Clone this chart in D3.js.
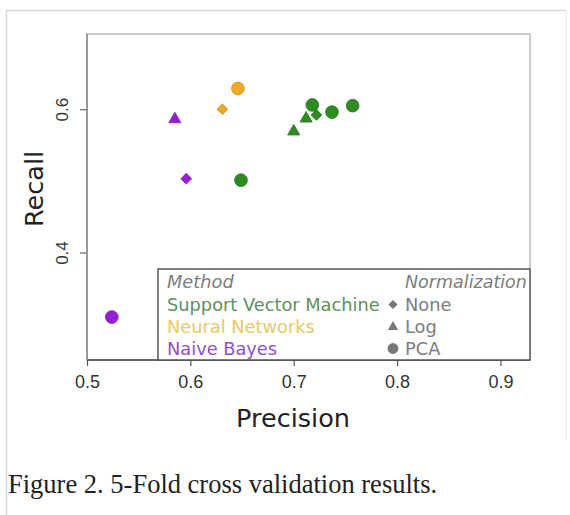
<!DOCTYPE html>
<html>
<head>
<meta charset="utf-8">
<script src="https://d3js.org/d3.v7.min.js"></script>
<style>
  body { margin: 0; background: #fff; }
  svg { display: block; }
</style>
</head>
<body>
<script>

// data
var methods = ['Support Vector Machine', 'Neural Networks', 'Naive Bayes'];
var normalizations = ['None', 'Log', 'PCA'];
var pointMethod = ['Support Vector Machine', 'Support Vector Machine', 'Support Vector Machine',
  'Support Vector Machine', 'Support Vector Machine', 'Support Vector Machine', 'Support Vector Machine',
  'Neural Networks', 'Neural Networks',
  'Naive Bayes', 'Naive Bayes', 'Naive Bayes'];
var pointNorm = ['None', 'Log', 'Log', 'PCA', 'PCA', 'PCA', 'PCA',
  'None', 'PCA',
  'Log', 'None', 'PCA'];
var precision = [0.722, 0.700, 0.712, 0.718, 0.737, 0.757, 0.649, 0.631, 0.646, 0.585, 0.596, 0.524];
var recall    = [0.592, 0.569, 0.587, 0.606, 0.596, 0.605, 0.501, 0.600, 0.629, 0.586, 0.503, 0.310];
var xTicks = [0.5, 0.6, 0.7, 0.8, 0.9];
var yTicks = [0.4, 0.6];

var width = 570;
var height = 515;
var svg = d3.select('body').append('svg')
  .attr('width', width)
  .attr('height', height);

svg.append('rect').attr('width', width).attr('height', height).style('fill', '#fff');

// faint page frame
svg.append('path')
  .attr('d', 'M6.5,515V10.5H566')
  .style('fill', 'none')
  .style('stroke', '#d8d8d8')
  .style('stroke-width', 1.5);
svg.append('path')
  .attr('d', 'M566.5,10.5V440')
  .style('fill', 'none')
  .style('stroke', '#eeeeee')
  .style('stroke-width', 1);

var x = d3.scaleLinear().domain([0.5, 0.9286]).range([87, 530]);
var y = d3.scaleLinear().domain([0.25, 0.705]).range([360, 34]);

var colors = d3.scaleOrdinal()
  .domain(methods)
  .range(['#2e8b22', '#efaa26', '#9420d4']);
var textColors = d3.scaleOrdinal()
  .domain(methods)
  .range(['#5e8f5e', '#e8c96c', '#8d52c6']);
var shapes = d3.scaleOrdinal()
  .domain(normalizations)
  .range(['diamond', 'triangle', 'circle']);

function symbolPath (shape, s) {
  s = s || 1;
  if (shape == 'diamond') return d3.symbol(d3.symbolSquare, 58 * s * s)();
  if (shape == 'triangle') return d3.symbol(d3.symbolTriangle, 64 * s * s)();
  return d3.symbol(d3.symbolCircle, 128 * s * s)();
}

// plot box
svg.append('rect')
  .attr('x', 87).attr('y', 34)
  .attr('width', 530 - 87).attr('height', 360 - 34)
  .style('fill', 'none')
  .style('stroke', '#b0b0b0')
  .style('stroke-width', 1.3);

// x axis
var xAxis = svg.append('g')
  .attr('transform', 'translate(0,360)')
  .call(d3.axisBottom(x).tickValues(xTicks).tickSize(6).tickPadding(9).tickFormat(d3.format('.1f')));
xAxis.select('.domain').remove();
xAxis.selectAll('line').style('stroke', '#555').style('stroke-width', 1.2);
xAxis.selectAll('text')
  .style('font-family', 'Liberation Sans, Arial, sans-serif')
  .style('font-size', '18px')
  .style('fill', '#333');
svg.append('line')
  .attr('x1', 87).attr('x2', 530).attr('y1', 360).attr('y2', 360)
  .style('stroke', '#444').style('stroke-width', 1.5);

// y axis
var yAxis = svg.append('g')
  .attr('transform', 'translate(87,0)')
  .call(d3.axisLeft(y).tickValues(yTicks).tickSize(7).tickFormat(d3.format('.1f')));
yAxis.select('.domain').remove();
yAxis.selectAll('line').style('stroke', '#666').style('stroke-width', 1.2);
yAxis.selectAll('text')
  .attr('x', 0).attr('dy', null)
  .attr('transform', 'translate(-19,0) rotate(-90)')
  .attr('text-anchor', 'middle')
  .style('font-family', 'Liberation Sans, Arial, sans-serif')
  .style('font-size', '17px')
  .style('fill', '#333');
svg.append('line')
  .attr('x1', 87).attr('x2', 87).attr('y1', 34).attr('y2', 360)
  .style('stroke', '#8a8a8a').style('stroke-width', 1.5);

// axis titles
svg.append('text')
  .attr('x', 293).attr('y', 427)
  .attr('text-anchor', 'middle')
  .style('font-family', 'DejaVu Sans, sans-serif')
  .style('font-size', '25.5px')
  .style('fill', '#222')
  .text('Precision');
svg.append('text')
  .attr('transform', 'translate(43,189) rotate(-90)')
  .attr('text-anchor', 'middle')
  .style('font-family', 'DejaVu Sans, sans-serif')
  .style('font-size', '25.5px')
  .style('fill', '#222')
  .text('Recall');

// legend
var lg = svg.append('g');
lg.append('rect')
  .attr('x', 158).attr('y', 269)
  .attr('width', 530 - 158).attr('height', 360 - 269)
  .style('fill', '#fff')
  .style('stroke', '#555')
  .style('stroke-width', 1.5);
var rowY = [288, 310.5, 333, 354.5];
var font = 'DejaVu Sans, sans-serif';
lg.append('text')
  .attr('x', 167).attr('y', rowY[0])
  .style('font-family', font).style('font-size', '17.8px').style('font-style', 'italic')
  .style('fill', '#7d7d7d')
  .text('Method');
lg.append('text')
  .attr('x', 405).attr('y', rowY[0])
  .style('font-family', font).style('font-size', '17.5px').style('font-style', 'italic')
  .style('fill', '#7d7d7d')
  .text('Normalization');
lg.selectAll('.m')
  .data(methods)
  .enter()
  .append('text')
  .attr('x', 167)
  .attr('y', function (d, i) { return rowY[i + 1]; })
  .style('font-family', font).style('font-size', '17.8px')
  .style('fill', function (d) { return textColors(d); })
  .text(function (d) { return d; });
lg.selectAll('.ns')
  .data(normalizations)
  .enter()
  .append('path')
  .attr('transform', function (d, i) {
    var t = 'translate(393,' + (rowY[i + 1] - 6) + ')';
    return d == 'None' ? t + ' rotate(45)' : t;
  })
  .attr('d', function (d) { return symbolPath(shapes(d), 0.85); })
  .style('fill', '#777');
lg.selectAll('.n')
  .data(normalizations)
  .enter()
  .append('text')
  .attr('x', 405)
  .attr('y', function (d, i) { return rowY[i + 1]; })
  .style('font-family', font).style('font-size', '17.8px')
  .style('fill', '#7d7d7d')
  .text(function (d) { return d; });

// points
var idx = d3.range(precision.length);
svg.append('g').selectAll('path')
  .data(idx)
  .enter()
  .append('path')
  .attr('transform', function (i) {
    var t = 'translate(' + x(precision[i]) + ',' + y(recall[i]) + ')';
    return pointNorm[i] == 'None' ? t + ' rotate(45)' : t;
  })
  .attr('d', function (i) { return symbolPath(shapes(pointNorm[i])); })
  .style('fill', function (i) { return colors(pointMethod[i]); })
  .style('stroke', function (i) { return d3.color(colors(pointMethod[i])).darker(0.4); })
  .style('stroke-width', 0.8);

// caption
svg.append('text')
  .attr('x', 8).attr('y', 493)
  .style('font-family', 'Liberation Serif, Times New Roman, serif')
  .style('font-size', '26.5px')
  .style('fill', '#222')
  .text('Figure 2. 5-Fold cross validation results.');

</script>
</body>
</html>
